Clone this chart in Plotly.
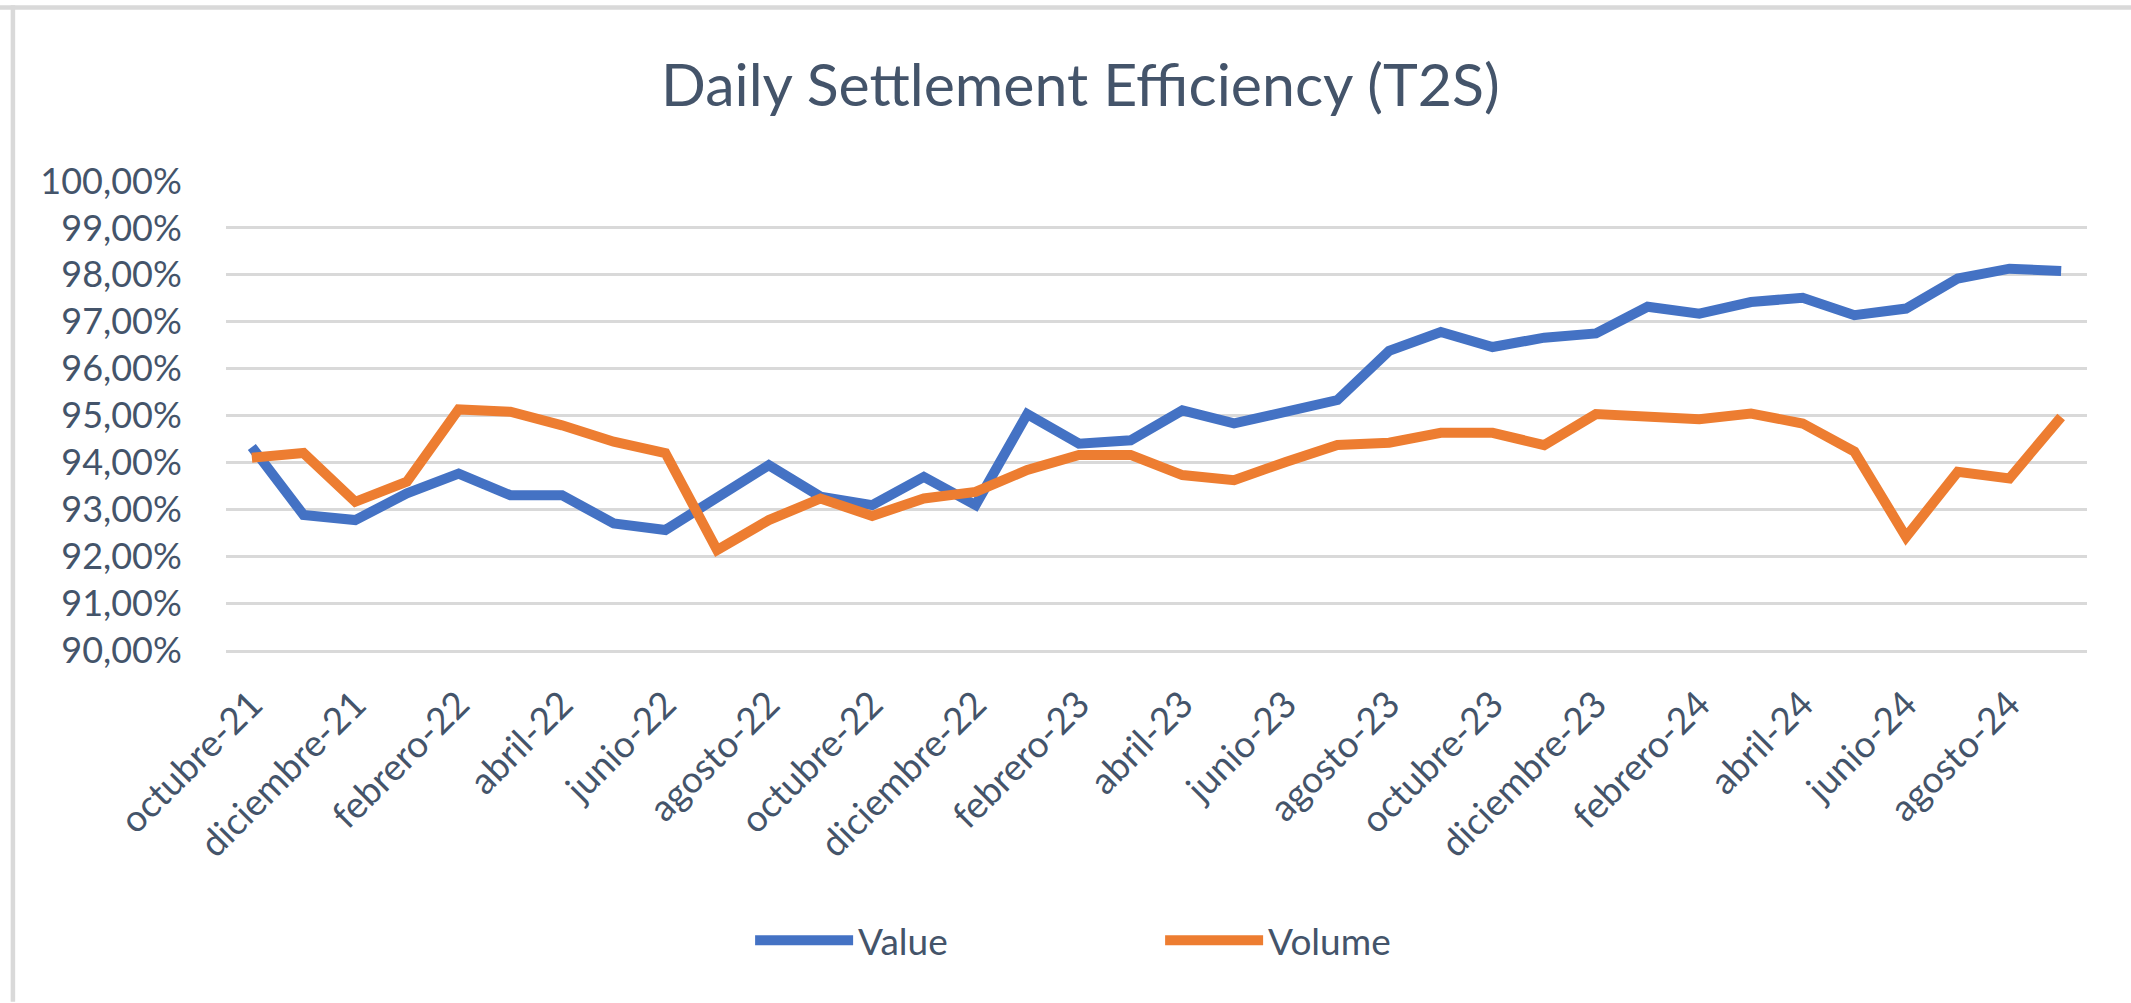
import plotly.graph_objects as go

meses = ['octubre-21', 'noviembre-21', 'diciembre-21', 'enero-22', 'febrero-22', 'marzo-22',
         'abril-22', 'mayo-22', 'junio-22', 'julio-22', 'agosto-22', 'septiembre-22',
         'octubre-22', 'noviembre-22', 'diciembre-22', 'enero-23', 'febrero-23', 'marzo-23',
         'abril-23', 'mayo-23', 'junio-23', 'julio-23', 'agosto-23', 'septiembre-23',
         'octubre-23', 'noviembre-23', 'diciembre-23', 'enero-24', 'febrero-24', 'marzo-24',
         'abril-24', 'mayo-24', 'junio-24', 'julio-24', 'agosto-24', 'septiembre-24']

# % settled
value = [94.33, 92.88, 92.77, 93.34, 93.76, 93.30, 93.30, 92.70, 92.56, 93.27, 93.94, 93.27,
         93.09, 93.69, 93.09, 95.03, 94.40, 94.47, 95.11, 94.83, 95.08, 95.33, 96.38, 96.78,
         96.46, 96.66, 96.75, 97.32, 97.17, 97.42, 97.51, 97.14, 97.28, 97.92, 98.13, 98.08]
volume = [94.10, 94.20, 93.16, 93.59, 95.13, 95.08, 94.79, 94.44, 94.20, 92.13, 92.77, 93.23,
          92.86, 93.23, 93.37, 93.84, 94.16, 94.16, 93.73, 93.62, 94.01, 94.37, 94.42, 94.63,
          94.63, 94.37, 95.03, 94.99, 94.92, 95.04, 94.83, 94.23, 92.41, 93.80, 93.66, 94.97]

y_ticks = [90, 91, 92, 93, 94, 95, 96, 97, 98, 99, 100]
y_text = [f'{v:.2f}'.replace('.', ',') + '%' for v in y_ticks]

txt = '#44546A'
grid = '#D9D9D9'
fnt = 'Lato'

fig = go.Figure()
fig.add_trace(go.Scatter(x=meses, y=value, name='Value', mode='lines',
                         line=dict(color='#4472C4', width=10)))
fig.add_trace(go.Scatter(x=meses, y=volume, name='Volume', mode='lines',
                         line=dict(color='#ED7D31', width=10)))

# tick marks sit between categories, every second one (excel style)
n = len(meses)
bounds = [i - 0.5 for i in range(0, n + 1, 2)]

fig.update_layout(
    width=2131, height=1003,
    margin=dict(l=226, r=44, t=181, b=353),
    paper_bgcolor='white', plot_bgcolor='white',
    font=dict(family=fnt, color=txt),
    title=dict(text='Daily Settlement Efficiency (T2S)', font=dict(size=59, color=txt, family=fnt),
               x=0.507, xanchor='center', y=0.915, yanchor='middle'),
    xaxis=dict(type='category', tickvals=meses[::2], tickangle=-45,
               tickfont=dict(size=37, color=txt), ticks='outside', ticklen=15, tickcolor='rgba(0,0,0,0)',
               showgrid=False, showline=True, linecolor=grid, linewidth=2.5,
               range=[-0.5, n - 0.5]),
    xaxis2=dict(overlaying='x', anchor='y', side='bottom', range=[-0.5, n - 0.5],
                tickvals=bounds, ticks='outside', ticklen=12, tickwidth=2.5, tickcolor=grid,
                showticklabels=False, showgrid=False, showline=False, zeroline=False),
    yaxis=dict(range=[90, 100], tickvals=y_ticks, ticktext=y_text,
               tickfont=dict(size=36, color=txt), ticks='outside', ticklen=36,
               tickcolor='rgba(0,0,0,0)', showgrid=True, gridcolor=grid, gridwidth=2.5,
               zeroline=False, showline=False),
    legend=dict(orientation='h', xref='container', yref='container', x=0.352, xanchor='left',
                y=0.062, yanchor='middle', font=dict(size=37, color=txt), itemwidth=98,
                entrywidth=297, entrywidthmode='pixels'),
    shapes=[
        dict(type='line', xref='paper', yref='paper', x0=-0.13, x1=1.03, y0=1.37, y1=1.37,
             line=dict(color=grid, width=4.5)),
        dict(type='line', xref='paper', yref='paper', x0=-0.1145, x1=-0.1145, y0=-0.75, y1=1.375,
             line=dict(color=grid, width=4.5)),
    ],
)

fig.write_html('out.html', config={'displayModeBar': False},
               post_script="document.body.style.margin='0';")
